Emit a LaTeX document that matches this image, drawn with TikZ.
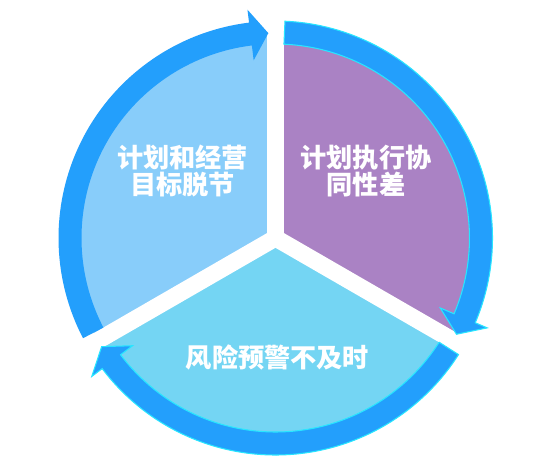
\documentclass[tikz,border=0pt]{standalone}
\usepackage{fontspec}
\newfontfamily\cjk{Noto Sans CJK SC}[BoldFont={Noto Sans CJK SC Black}]
\definecolor{planblue}{RGB}{136,205,250}
\definecolor{execpurple}{RGB}{170,130,196}
\definecolor{riskcyan}{RGB}{116,213,243}
\definecolor{ringblue}{RGB}{35,159,252}
\definecolor{glowcyan}{RGB}{40,230,255}

\begin{document}
\begin{tikzpicture}
        \tikzstyle{sectortext}=[text=white,font=\cjk\bfseries\fontsize{14.9}{15.3}\selectfont,align=center,inner sep=0pt]
        \tikzstyle{ring}=[fill=ringblue]
        \tikzstyle{glow}=[fill=ringblue,draw=glowcyan,line width=0.6pt]
        \fill[white] (-5.51,-4.64) rectangle (5.33,4.76);
        \useasboundingbox (-5.51,-4.64) rectangle (5.33,4.76);

        % three sectors
        \foreach \a/\b/\col in {90/210/planblue, -30/90/execpurple, 210/330/riskcyan}
                \fill[\col] (0,0) -- (\a:4.1) arc[start angle=\a, end angle=\b, radius=4.1] -- cycle;
        \foreach \g in {90,210,330}
                \draw[white,line width=0.34cm] (\g+180:0.1) -- (\g:4.2);

        % arrows round the circle
        \foreach \s/\b/\t/\sty in {207.5/97/92/ring, 87.5/-23/-28/glow, -32.5/-143/-148/glow}
                \path[\sty] (\s:3.88) arc[start angle=\s, end angle=\b, radius=3.88]
                        -- (\b:3.58) -- (\t:4.1) -- (\b:4.6) -- (\b:4.34)
                        arc[start angle=\b, end angle=\s, radius=4.34] -- cycle;

        \node[sectortext] (plan) at (-1.86,1.34) {计划和经营\\目标脱节};
        \node[sectortext] (exec) at (1.81,1.34) {计划执行协\\同性差};
        \node[sectortext] (risk) at (0.04,-2.38) {风险预警不及时};
\end{tikzpicture}
\end{document}
